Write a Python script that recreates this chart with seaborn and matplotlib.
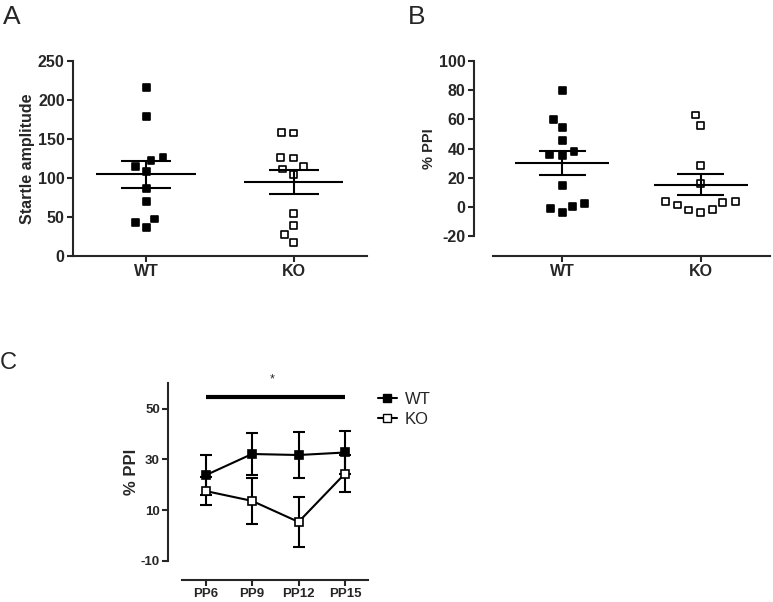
import numpy as np
import pandas as pd
import matplotlib
import matplotlib.pyplot as plt
import seaborn as sns
from matplotlib.lines import Line2D
from matplotlib.path import Path
matplotlib.use('Agg')

groups = ["WT", "KO"]

# panel A: startle amplitude per animal
startle_wt = [216, 179, 126.5, 122.6, 115, 108.5, 86, 70, 47.4, 43, 36]
startle_ko = [158.6, 157.7, 125.6, 126.5, 111.5, 114.5, 105, 55, 39, 27.8, 17]

# panel B: %PPI per animal
ppi_wt = [80, 59.8, 54.3, 45.6, 38.3, 35.6, 35.8, 15, 0.5, 2.5, -0.9, -3.9]
ppi_ko = [63, 55.7, 28.3, 16.4, 3.9, 3.2, -1.4, -3.7, -2, 1.4, 3.6]

# panel C: %PPI by prepulse intensity (mean +/- SEM)
prepulses = ["PP6", "PP9", "PP12", "PP15"]
wt_mean = [23.7, 32.1, 31.7, 32.7]
wt_sem = [7.9, 8.2, 8.9, 8.3]
ko_mean = [17.5, 13.6, 5.3, 24.4]
ko_sem = [5.5, 9.2, 9.8, 7.2]

sns.set_theme(style="ticks")
plt.rcParams['font.family'] = ['Liberation Sans', 'DejaVu Sans']
plt.rcParams['axes.unicode_minus'] = False

# square marker drawn a bit smaller than its footprint, so the swarm spacing
# comes out wider like the Prism column scatter
k = 0.34
small_square = Path(
    [(-0.5, -0.5), (0.5, 0.5), (-k, -k), (k, -k), (k, k), (-k, k), (-k, -k)],
    [Path.MOVETO, Path.MOVETO, Path.MOVETO, Path.LINETO, Path.LINETO, Path.LINETO, Path.CLOSEPOLY],
)

fig = plt.figure(figsize=(7.73, 6.02), dpi=100)
axA = fig.add_axes([0.0944, 0.5748, 0.3804, 0.3239])
axB = fig.add_axes([0.6128, 0.6075, 0.3833, 0.2912])
axC = fig.add_axes([0.2177, 0.0686, 0.2588, 0.2947])


def scatter_panel(ax, wt, ko):
    df = pd.DataFrame({"group": ["WT"] * len(wt) + ["KO"] * len(ko),
                       "value": wt + ko})
    sns.swarmplot(data=df, x="group", y="value", hue="group", order=groups,
                  palette={"WT": "black", "KO": "white"}, marker=small_square, size=7.3,
                  edgecolor="black", linewidth=1.2, legend=False, ax=ax, zorder=3)
    for i, vals in enumerate([wt, ko]):
        v = np.array(vals)
        m = v.mean()
        sem = v.std(ddof=1) / np.sqrt(len(v))
        ax.hlines(m, i - 0.34, i + 0.34, color="black", lw=1.5, zorder=4)
        ax.hlines([m - sem, m + sem], i - 0.17, i + 0.17, color="black", lw=1.5, zorder=4)
        ax.vlines(i, m - sem, m + sem, color="black", lw=1.5, zorder=4)
    ax.set_xlabel("")
    for s in ["top", "right"]:
        ax.spines[s].set_visible(False)
    for s in ["left", "bottom"]:
        ax.spines[s].set_linewidth(1.5)
    ax.tick_params(axis="both", width=1.5, length=4, labelsize=11.5, pad=2)


# A
scatter_panel(axA, startle_wt, startle_ko)
axA.set_ylim(0, 250)
axA.set_yticks([0, 50, 100, 150, 200, 250])
axA.set_xlim(-0.5, 1.5)
axA.set_ylabel("Startle amplitude", fontsize=11.5, fontweight="bold", labelpad=2)

# B
scatter_panel(axB, ppi_wt, ppi_ko)
axB.set_ylim(-20, 100)
axB.set_yticks([-20, 0, 20, 40, 60, 80, 100])
axB.set_xlim(-0.64, 1.5)
axB.spines["bottom"].set_position(("outward", 14))
axB.spines["bottom"].set_bounds(-0.5, 1.5)
axB.set_ylabel("% PPI", fontsize=10.5, fontweight="bold", labelpad=2)

# C
pos = np.arange(len(prepulses))
axC.errorbar(pos, wt_mean, yerr=wt_sem, fmt="none", ecolor="black",
             elinewidth=1.5, capsize=4, capthick=1.5, zorder=2)
axC.errorbar(pos, ko_mean, yerr=ko_sem, fmt="none", ecolor="black",
             elinewidth=1.5, capsize=4, capthick=1.5, zorder=2)
sns.lineplot(x=pos, y=wt_mean, color="black", lw=1.5, marker="s", markersize=5.5,
             markerfacecolor="black", markeredgecolor="black", markeredgewidth=1.2,
             ax=axC, zorder=3)
sns.lineplot(x=pos, y=ko_mean, color="black", lw=1.5, marker="s", markersize=5.5,
             markerfacecolor="white", markeredgecolor="black", markeredgewidth=1.2,
             ax=axC, zorder=4)
axC.plot([0, 3], [54.4, 54.4], color="black", lw=3, solid_capstyle="butt")
axC.text(1.43, 61.5, "*", ha="center", va="center", fontsize=9, clip_on=False)
axC.set_xlim(-0.8, 3.5)
axC.set_ylim(-10, 60)
axC.set_yticks([-10, 10, 30, 50])
axC.set_xticks(pos)
axC.set_xticklabels(prepulses)
for s in ["top", "right"]:
    axC.spines[s].set_visible(False)
for s in ["left", "bottom"]:
    axC.spines[s].set_linewidth(1.5)
axC.spines["bottom"].set_position(("outward", 14))
axC.spines["bottom"].set_bounds(-0.5, 3.5)
axC.spines["left"].set_bounds(-10, 60)
axC.tick_params(axis="both", width=1.5, length=4, labelsize=9.5, pad=2)
axC.set_ylabel("% PPI", fontsize=12, fontweight="bold", labelpad=1)

for ax in [axA, axB, axC]:
    for lab in ax.get_xticklabels() + ax.get_yticklabels():
        lab.set_fontweight("bold")

handles = [
    Line2D([], [], color="black", lw=1.5, marker="s", markersize=5.5,
           markerfacecolor="black", markeredgecolor="black"),
    Line2D([], [], color="black", lw=1.5, marker="s", markersize=5.5,
           markerfacecolor="white", markeredgecolor="black"),
]
fig.legend(handles, groups, loc="upper left", bbox_to_anchor=(0.47, 0.374),
           frameon=False, handlelength=1.1, handletextpad=0.5, labelspacing=0.3,
           prop={"size": 12})

fig.text(0.004, 0.992, "A", fontsize=19, va="top", ha="left")
fig.text(0.528, 0.992, "B", fontsize=19, va="top", ha="left")
fig.text(0.0, 0.415, "C", fontsize=17, va="top", ha="left")

fig.savefig("out.png", dpi=100)
